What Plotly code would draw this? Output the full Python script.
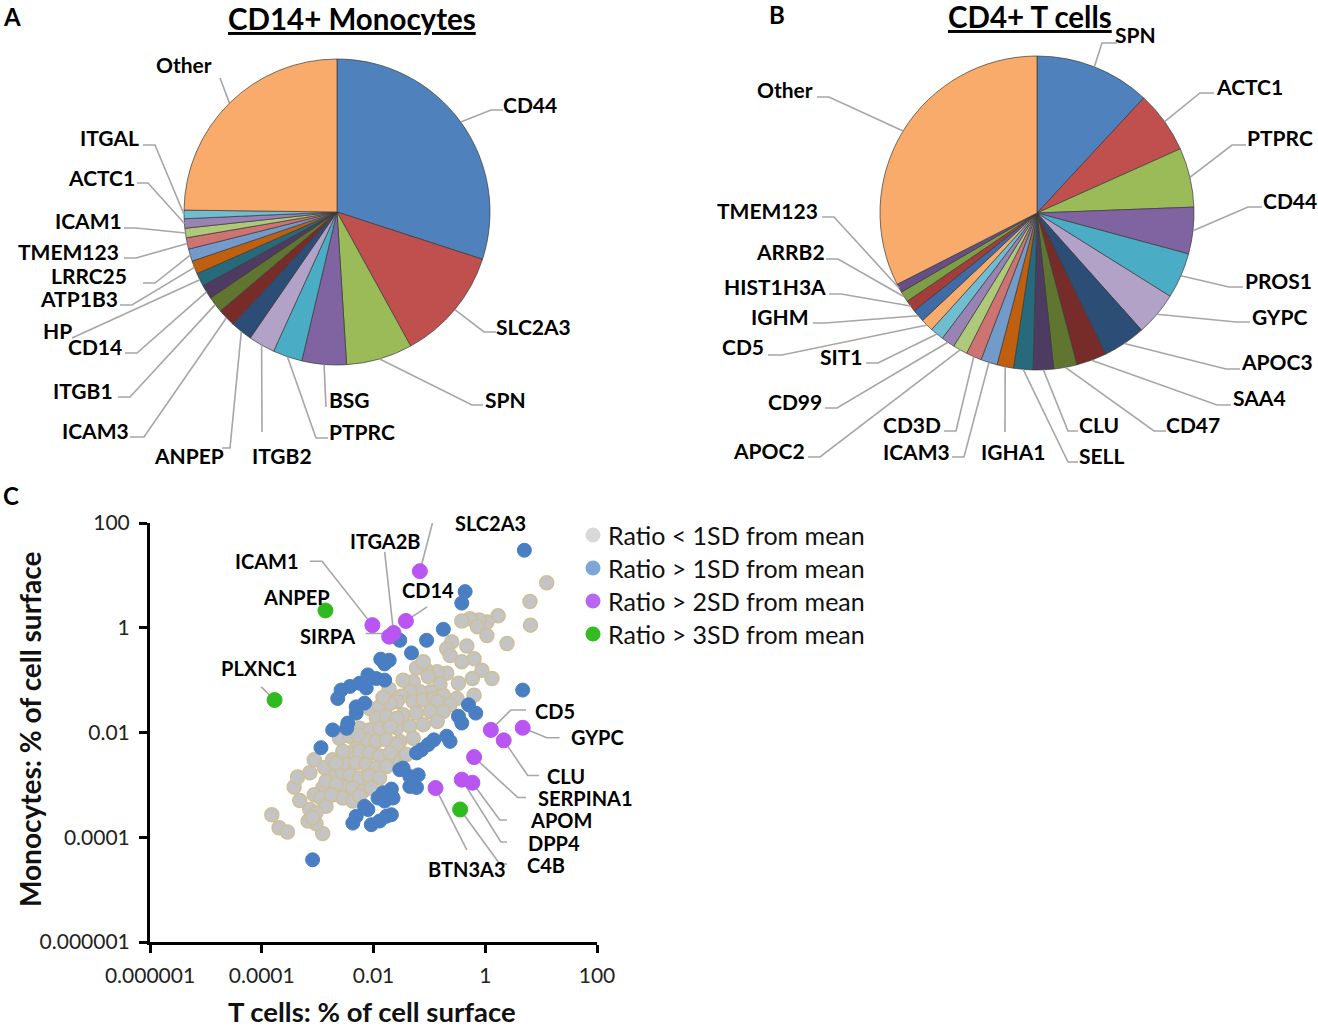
import numpy as np
import plotly.graph_objects as go

W, H = 1318, 1030
FONT = "Lato"

def fx(x):
    return x / W

def fy(y):
    return 1 - y / H

# ---------------- Pie A: CD14+ Monocytes (% of cell surface) ----------------
mono_genes = ["CD44", "SLC2A3", "SPN", "BSG", "PTPRC", "ITGB2", "ANPEP", "ICAM3", "ITGB1",
              "CD14", "HP", "ATP1B3", "LRRC25", "TMEM123", "ICAM1", "ACTC1", "ITGAL", "Other"]
mono_pct = [30.0, 12.0, 7.0, 4.7, 3.1, 2.8, 2.3, 1.9, 1.7,
            1.5, 1.4, 1.4, 1.3, 1.2, 1.0, 1.0, 0.9, 24.8]

# ---------------- Pie B: CD4+ T cells ----------------
tcell_genes = ["SPN", "ACTC1", "PTPRC", "CD44", "PROS1", "GYPC", "APOC3", "SAA4", "CD47", "CLU",
               "SELL", "IGHA1", "ICAM3", "CD3D", "APOC2", "CD99", "SIT1", "CD5", "IGHM",
               "HIST1H3A", "ARRB2", "TMEM123", "Other"]
tcell_pct = [11.9, 6.4, 6.1, 4.8, 4.7, 4.5, 4.4, 3.1, 2.4, 2.1,
             2.0, 1.7, 1.7, 1.6, 1.5, 1.4, 1.4, 1.3, 1.3,
             1.2, 1.1, 0.9, 32.5]

palette = ["#4F81BD", "#C0504D", "#9BBB59", "#8064A2", "#4BACC6", "#B3A2C7",
           "#2C4D75", "#772C2A", "#5F7530", "#4D3B62", "#276A7C", "#C0600E",
           "#729ACA", "#CD7371", "#AFC97A", "#9983B5", "#6FBDD1", "#F9AB6B",
           "#3F6BA6", "#A33D3A", "#7E9E45", "#664F86"]
other_color = "#F9AB6B"
mono_colors = palette[:17] + [other_color]
tcell_colors = palette[:22] + [other_color]

# ---------------- Scatter C: log10(% of cell surface) ----------------
grey_t = [1.10, 0.80, 0.81, 0.23, 0.03, -0.11, -0.27, -0.42, -0.14, 0.03,
          0.39, -0.33, -0.60, -0.69, -0.63, -0.20, -0.42, -0.06, 0.12, -0.23,
          -0.48, -0.69, -0.86, -1.05, -1.23, -1.11, -1.29, -1.47, -1.02, -0.81,
          -0.98, -1.17, -1.35, -1.50, -1.58, -1.29, -1.11, -0.92, -0.75, -0.51,
          -0.20, -0.63, -0.86, -1.47, -1.23, -0.98, -0.75, -1.58, -1.35, -1.11,
          -0.86, -1.53, -1.29, -1.58, -1.41, -1.65, -2.07, -1.89, -1.70, -1.95,
          -1.77, -1.58, -2.25, -2.07, -1.89, -1.70, -2.31, -2.13, -1.95, -1.77,
          -1.58, -2.42, -2.25, -2.07, -1.89, -1.70, -2.48, -2.31, -2.13, -1.95,
          -1.77, -2.61, -2.42, -2.25, -2.07, -1.89, -2.55, -2.37, -2.19, -2.04,
          -2.73, -2.55, -2.37, -2.25, -2.91, -2.79, -3.82, -3.69, -3.54, -2.91,
          -3.03, -3.17, -3.32, -3.42, -3.36, -3.14, -3.06, -2.88, -2.73, -3.06,
          -2.94, -2.85, -3.14, -3.03, -3.09, -2.85, -2.67, -2.76, -2.61, -2.42,
          -2.28, -2.55, -2.67, -1.72, -1.83]
grey_m = [0.86, 0.50, 0.05, 0.23, 0.11, 0.15, 0.17, 0.13, 0.02, -0.15,
          -0.30, -0.35, -0.27, -0.40, -0.53, -0.59, -0.65, -0.81, -0.97, -0.97,
          -1.06, -0.87, -0.84, -0.81, -0.77, -0.65, -1.03, -1.00, -0.93, -1.08,
          -1.22, -1.22, -1.22, -1.31, -1.41, -1.41, -1.38, -1.35, -1.29, -1.35,
          -1.29, -1.47, -1.41, -1.66, -1.63, -1.60, -1.60, -1.91, -1.88, -1.85,
          -1.79, -2.17, -2.11, -2.45, -2.42, -2.51, -1.54, -1.51, -1.44, -1.73,
          -1.69, -1.73, -1.92, -1.95, -1.92, -1.89, -2.17, -2.14, -2.17, -2.14,
          -2.23, -2.39, -2.36, -2.39, -2.45, -2.39, -2.61, -2.58, -2.61, -2.68,
          -2.65, -2.81, -2.81, -2.87, -2.83, -2.87, -3.03, -3.06, -3.12, -3.06,
          -3.19, -3.25, -3.31, -3.21, -3.06, -2.83, -3.57, -3.82, -3.90, -3.93,
          -3.74, -3.69, -3.30, -3.04, -2.85, -2.77, -2.52, -2.67, -2.52, -3.19,
          -3.25, -3.41, -3.47, -3.53, -3.63, -2.93, -2.99, -3.19, -2.11, -2.07,
          -2.05, -2.36, -2.58, -1.17, -1.33]

blue_t = [0.70, -0.36, -0.42, -0.75, -1.05, -1.53, -1.32, -1.87, -1.72, -1.80,
          -2.10, -1.95, -1.80, -2.25, -2.42, -2.13, -2.58, -2.64, -2.31, -2.16,
          -2.31, -2.46, -2.48, -2.73, -2.94, 0.67, -0.30, -0.17, -0.48, -0.42,
          -0.69, -0.63, -0.92, -1.02, -1.14, -1.23, -1.47, -1.53, -1.35, -1.20,
          -1.35, -1.23, -1.68, -1.65, -1.68, -1.83, -1.92, -1.80, -2.16, -2.10,
          -2.31, -2.37, -2.04, -1.89, -1.77, -3.09]
blue_m = [1.48, 0.69, 0.47, -0.03, -0.24, -0.24, -0.48, -0.60, -0.62, -0.69,
          -0.90, -0.97, -1.00, -1.06, -1.12, -1.15, -1.19, -1.35, -1.51, -1.44,
          -1.63, -1.82, -1.92, -1.95, -2.29, -1.19, -1.47, -1.63, -1.69, -1.82,
          -2.07, -2.17, -2.14, -2.23, -2.33, -2.39, -2.68, -2.71, -2.84, -2.81,
          -3.03, -3.05, -3.08, -3.25, -3.57, -3.15, -3.25, -3.31, -3.41, -3.47,
          -3.60, -3.73, -3.76, -3.69, -3.60, -4.43]

purple_names = ["SLC2A3", "ICAM1", "ITGA2B", "SIRPA", "CD14", "CD5", "GYPC", "CLU",
                "SERPINA1", "APOM", "DPP4", "BTN3A3"]
purple_t = [-1.17, -2.02, -1.64, -1.72, -1.42, 0.10, 0.67, 0.33, -0.20, -0.23, -0.42, -0.89]
purple_m = [1.08, 0.05, -0.10, -0.17, 0.13, -1.95, -1.91, -2.15, -2.47, -2.96, -2.90, -3.06]

green_names = ["ANPEP", "PLXNC1", "C4B"]
green_t = [-2.86, -3.77, -0.45]
green_m = [0.33, -1.38, -3.47]

legend_names = ["Ratio &lt; 1SD from mean", "Ratio &gt; 1SD from mean",
                "Ratio &gt; 2SD from mean", "Ratio &gt; 3SD from mean"]
legend_colors = ["#D9D9D9", "#7FA6D8", "#B966F2", "#33BB22"]

x_tickvals = [1e-6, 1e-4, 1e-2, 1, 100]
x_ticktext = ["0.000001", "0.0001", "0.01", "1", "100"]

# ---------------- layout geometry (pixels) ----------------
pieA_c, pieA_r = (337, 212), 153
pieB_c, pieB_r = (1037, 213), 157

# label: (text x, text y, line start x, line start y, elbow dx)
mono_lab = {
    "CD44": (530, 104, 503, 110, -12), "SLC2A3": (533, 326, 496, 332, -12),
    "SPN": (505, 399, 483, 405, -11), "BSG": (349, 399, 326, 407, 0),
    "PTPRC": (362, 431, 328, 438, -12), "ITGB2": (282, 455, 262, 432, 0),
    "ANPEP": (189, 455, 222, 448, 8), "ICAM3": (95, 430, 130, 437, 14),
    "ITGB1": (83, 390, 118, 397, 12), "CD14": (95, 347, 125, 353, 12),
    "HP": (57, 330, 72, 338, 0), "ATP1B3": (79, 298, 120, 305, 12),
    "LRRC25": (89, 276, 143, 283, 12), "TMEM123": (68, 252, 124, 258, 12),
    "ICAM1": (88, 221, 124, 228, 12), "ACTC1": (101, 177, 137, 183, 11),
    "ITGAL": (109, 138, 143, 145, 12), "Other": (184, 64, 220, 78, 0),
}
tcell_lab = {
    "SPN": (1135, 35, 1117, 43, -15), "ACTC1": (1249, 86, 1214, 93, -14),
    "PTPRC": (1280, 138, 1246, 145, -14), "CD44": (1290, 200, 1262, 207, -14),
    "PROS1": (1278, 280, 1243, 287, -14), "GYPC": (1279, 316, 1250, 322, -14),
    "APOC3": (1277, 362, 1240, 369, -14), "SAA4": (1259, 398, 1231, 405, -14),
    "CD47": (1193, 424, 1166, 431, -12), "CLU": (1099, 424, 1078, 431, -10),
    "SELL": (1102, 455, 1078, 462, -10), "IGHA1": (1013, 451, 1005, 432, 0),
    "ICAM3": (916, 451, 952, 457, 12), "CD3D": (912, 424, 944, 431, 12),
    "APOC2": (769, 450, 808, 457, 12), "CD99": (795, 401, 825, 408, 12),
    "SIT1": (841, 356, 866, 363, 12), "CD5": (743, 347, 768, 355, 14),
    "IGHM": (780, 317, 813, 323, 12), "HIST1H3A": (775, 287, 829, 294, 12),
    "ARRB2": (790, 252, 826, 259, 12), "TMEM123": (767, 210, 822, 217, 12),
    "Other": (785, 90, 817, 97, 12),
}

# scatter labels in log10 axis units: text x, text y, leader points (excluding the marker)
sc_lab = {
    "ICAM1": (-3.91, 1.27, [(-3.14, 1.27), (-2.92, 1.27)]),
    "ITGA2B": (-1.80, 1.66, [(-1.80, 1.45)]),
    "SLC2A3": (0.10, 2.00, [(-0.70, 2.02), (-0.94, 2.02)]),
    "CD14": (-1.03, 0.72, [(-1.04, 0.40)]),
    "ANPEP": (-3.37, 0.59, []),
    "SIRPA": (-2.83, -0.16, [(-2.14, -0.11), (-1.83, -0.11)]),
    "PLXNC1": (-4.05, -0.77, [(-4.01, -1.13)]),
    "CD5": (1.25, -1.59, [(0.73, -1.57), (0.46, -1.57)]),
    "GYPC": (2.00, -2.08, [(1.33, -2.10), (1.10, -2.10)]),
    "CLU": (1.44, -2.83, [(0.96, -2.82), (0.76, -2.82)]),
    "SERPINA1": (1.80, -3.25, [(0.73, -3.24), (0.58, -3.24)]),
    "APOM": (1.35, -3.67, [(0.39, -3.67), (0.26, -3.67)]),
    "DPP4": (1.23, -4.11, [(0.39, -4.09), (0.28, -4.09)]),
    "C4B": (1.08, -4.53, [(0.39, -4.51), (0.26, -4.51)]),
    "BTN3A3": (-0.33, -4.60, [(-0.33, -4.24)]),
}

# legend rows: marker centre x, text left x, first row y, row step (pixels)
LEG_MX, LEG_TX, LEG_Y0, LEG_DY = 593, 606, 535, 33

LINE_C = "#A6A6A6"
fig = go.Figure()
shapes = []
annotations = []


def add_pie(genes, pct, colors, c, r, labs):
    fig.add_trace(go.Pie(
        labels=genes, values=pct, sort=False, direction="clockwise", rotation=0,
        marker=dict(colors=colors, line=dict(color="#3A3A3A", width=0.7)),
        textinfo="none", hoverinfo="label+value", showlegend=False,
        domain=dict(x=[fx(c[0] - r), fx(c[0] + r)], y=[fy(c[1] + r), fy(c[1] - r)]),
    ))
    v = np.array(pct, dtype=float)
    frac = (np.cumsum(v) - v / 2) / v.sum()
    ang = frac * 2 * np.pi
    ex = c[0] + r * np.sin(ang)
    ey = c[1] - r * np.cos(ang)
    for g, x2, y2 in zip(genes, ex, ey):
        tx, ty, sx, sy, dx = labs[g]
        path = "M {:.5f},{:.5f} L {:.5f},{:.5f} L {:.5f},{:.5f}".format(
            fx(sx), fy(sy), fx(sx + dx), fy(sy), fx(x2), fy(y2))
        shapes.append(dict(type="path", path=path, xref="paper", yref="paper",
                           line=dict(color=LINE_C, width=1.6)))
        annotations.append(dict(text=g, x=fx(tx), y=fy(ty), xref="paper", yref="paper",
                                showarrow=False, xanchor="center", yanchor="middle",
                                font=dict(family=FONT, size=21, color="black", weight="bold")))


add_pie(mono_genes, mono_pct, mono_colors, pieA_c, pieA_r, mono_lab)
add_pie(tcell_genes, tcell_pct, tcell_colors, pieB_c, pieB_r, tcell_lab)

# ---------- scatter ----------
all_t = {**dict(zip(purple_names, purple_t)), **dict(zip(green_names, green_t))}
all_m = {**dict(zip(purple_names, purple_m)), **dict(zip(green_names, green_m))}
for g, (tx, ty, pts) in sc_lab.items():
    if pts:
        xs = [10 ** p[0] for p in pts] + [10 ** all_t[g]]
        ys = [10 ** p[1] for p in pts] + [10 ** all_m[g]]
        fig.add_trace(go.Scatter(x=xs, y=ys, mode="lines", line=dict(color=LINE_C, width=1.6),
                                 hoverinfo="skip", showlegend=False))
    annotations.append(dict(text=g, x=tx, y=ty, xref="x", yref="y", showarrow=False,
                            xanchor="center", yanchor="middle",
                            font=dict(family=FONT, size=20, color="black", weight="bold")))

MS = 14
fig.add_trace(go.Scatter(x=10 ** np.array(grey_t), y=10 ** np.array(grey_m), mode="markers",
                         marker=dict(size=MS, color="#C4C4C4", line=dict(color="#CDBF98", width=1.5)),
                         showlegend=False, hoverinfo="x+y"))
fig.add_trace(go.Scatter(x=10 ** np.array(blue_t), y=10 ** np.array(blue_m), mode="markers",
                         marker=dict(size=MS, color="#4A7EC2", line=dict(color="#4A7EC2", width=1)),
                         showlegend=False, hoverinfo="x+y"))
fig.add_trace(go.Scatter(x=10 ** np.array(purple_t), y=10 ** np.array(purple_m), mode="markers",
                         marker=dict(size=MS + 1, color="#B955F2", line=dict(color="#B955F2", width=1)),
                         text=purple_names, showlegend=False, hoverinfo="text+x+y"))
fig.add_trace(go.Scatter(x=10 ** np.array(green_t), y=10 ** np.array(green_m), mode="markers",
                         marker=dict(size=MS + 1, color="#2FBB1F", line=dict(color="#2FBB1F", width=1)),
                         text=green_names, showlegend=False, hoverinfo="text+x+y"))

# legend (drawn as layout items so the symbol / text spacing matches)
for i, (nm, col) in enumerate(zip(legend_names, legend_colors)):
    yy = LEG_Y0 + i * LEG_DY
    shapes.append(dict(type="circle", xref="paper", yref="paper",
                       x0=fx(LEG_MX - 7.5), x1=fx(LEG_MX + 7.5), y0=fy(yy + 7.5), y1=fy(yy - 7.5),
                       fillcolor=col, line=dict(width=0)))
    annotations.append(dict(text=nm, x=fx(LEG_TX), y=fy(yy), xref="paper", yref="paper",
                            showarrow=False, xanchor="left", yanchor="middle",
                            font=dict(family=FONT, size=25, color="#111111")))

axis_common = dict(type="log", range=[-6, 2], showline=True, linecolor="black", linewidth=3,
                   ticks="outside", ticklen=8, tickwidth=2.5, tickcolor="black",
                   tickvals=x_tickvals, ticktext=x_ticktext, showgrid=False, zeroline=False,
                   automargin=False, ticklabelstandoff=5,
                   tickfont=dict(family=FONT, size=21, color="#222222"))
fig.update_layout(
    xaxis=dict(domain=[fx(150), fx(597)], anchor="y", **axis_common),
    yaxis=dict(domain=[fy(942), fy(523)], anchor="x", **axis_common),
)

# titles and panel letters
for txt, x, y, size in [("<u>CD14+ Monocytes</u>", 352, 18, 29.5), ("<u>CD4+ T cells</u>", 1030, 17, 29.5),
                        ("A", 12, 17, 24), ("B", 777, 15, 24), ("C", 11, 495, 24)]:
    annotations.append(dict(text=txt, x=fx(x), y=fy(y), xref="paper", yref="paper", showarrow=False,
                            xanchor="center", yanchor="middle",
                            font=dict(family=FONT, size=size, color="black", weight="bold")))
annotations.append(dict(text="T cells: % of cell surface", x=fx(372), y=fy(1011), xref="paper", yref="paper",
                        showarrow=False, xanchor="center", yanchor="middle",
                        font=dict(family=FONT, size=27.5, color="#111111", weight="bold")))
annotations.append(dict(text="Monocytes: % of cell surface", x=fx(30), y=fy(729), xref="paper", yref="paper",
                        showarrow=False, xanchor="center", yanchor="middle", textangle=-90,
                        font=dict(family=FONT, size=28, color="#111111", weight="bold")))

fig.update_layout(
    template="none",
    width=W, height=H, margin=dict(l=0, r=0, t=0, b=0, pad=0, autoexpand=False),
    paper_bgcolor="white", plot_bgcolor="white",
    shapes=shapes, annotations=annotations,
    showlegend=False,
)

fig.write_html("out.html", config={"displayModeBar": False},
               post_script="document.body.style.margin='0px';")
